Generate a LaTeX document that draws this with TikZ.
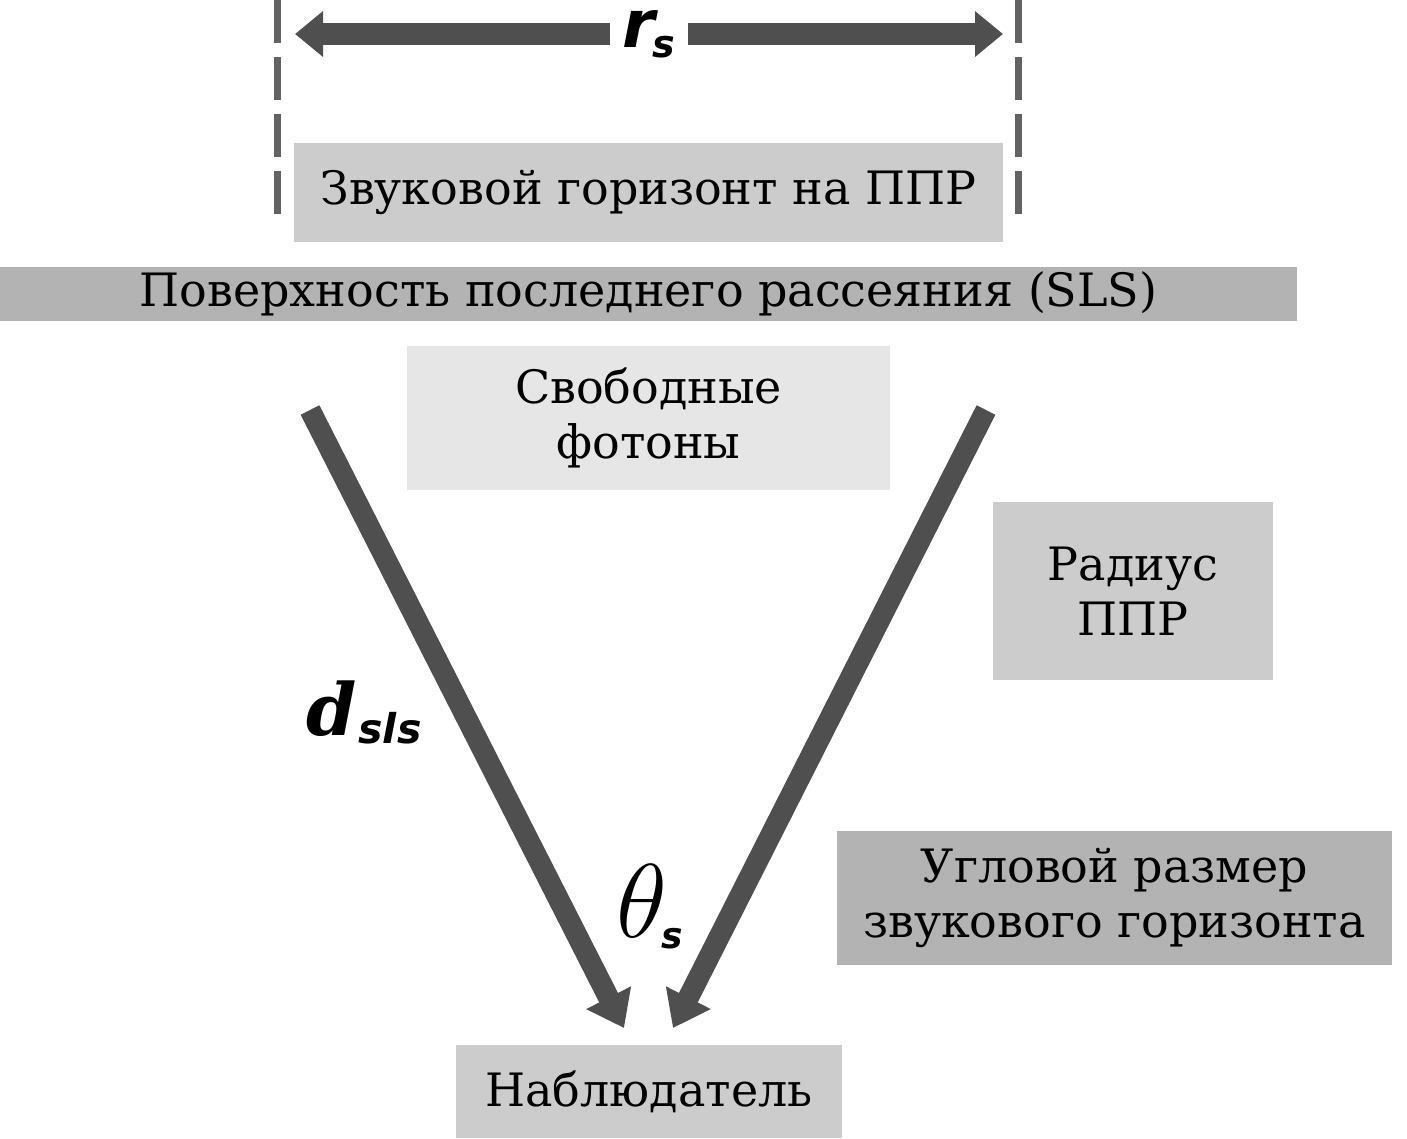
\RequirePackage{fix-cm}
\documentclass[tikz,border=0pt]{standalone}
\usepackage{fontspec}
\setmainfont{DejaVu Serif}
\newfontfamily\lsans{DejaVu Sans}
\usepackage{amsmath}
\usetikzlibrary{arrows.meta}
\definecolor{arrowgray}{HTML}{4F4F4F}
\definecolor{dashgray}{HTML}{636363}
\definecolor{boxlight}{HTML}{E6E6E6}
\definecolor{boxmid}{HTML}{CCCCCC}
\definecolor{boxdark}{HTML}{B3B3B3}
\newcommand{\symfont}{\lsans\bfseries\itshape}
\begin{document}
\begin{tikzpicture}[x=1pt,y=-1pt,
  panel/.style={fill=#1, draw=none, inner sep=0pt, align=center, font=\fontsize{46}{55}\selectfont},
  bigarrow/.style={draw=arrowgray, line width=21pt, -{Triangle[length=34pt,width=48pt]}},
  toparrow/.style={draw=arrowgray, line width=22pt, -{Triangle[length=28pt,width=44pt]}},
  dashline/.style={draw=dashgray, line width=7pt, dash pattern=on 43pt off 14pt}
]
\useasboundingbox (0,0) rectangle (1407,1138);

% dashed limits
\coordinate (DLa) at (277,0);
\coordinate (DLb) at (277,214);
\coordinate (DRa) at (1018,0);
\coordinate (DRb) at (1018,214);
\draw[dashline] (DLa) -- (DLb);
\draw[dashline] (DRa) -- (DRb);

% boxes
\node[panel=boxmid, minimum width=709pt, minimum height=99pt] (hz) at (648.5,192.5) {Звуковой горизонт на ППР};
\node[panel=boxdark, minimum width=1297pt, minimum height=54pt] (sls) at (648.5,294) {Поверхность последнего рассеяния (SLS)};
\node[panel=boxlight, minimum width=483pt, minimum height=144pt] (free) at (648.5,418) {Свободные\\фотоны};
\node[panel=boxmid, minimum width=280pt, minimum height=178pt] (rad) at (1133,591) {Радиус\\ППР};
\node[panel=boxdark, minimum width=555pt, minimum height=134pt] (ang) at (1114.5,898) {Угловой размер\\звукового горизонта};
\node[panel=boxmid, minimum width=386pt, minimum height=93pt] (obs) at (649,1091.5) {Наблюдатель};

% top r_s arrow
\node[inner sep=0pt, minimum width=78pt, minimum height=40pt] (rs) at (649,34)
  {\symfont\fontsize{66}{66}\selectfont r\kern-3pt\raisebox{-10pt}{\fontsize{38}{38}\selectfont s}};
\coordinate (TL) at (295,34);
\coordinate (TR) at (1003,34);
\draw[toparrow] (rs.west) -- (TL);
\draw[toparrow] (rs.east) -- (TR);

% diagonal arrows
\coordinate (L0) at (310,410);
\coordinate (R0) at (986,410);
\coordinate (L1) at (624,1028);
\coordinate (R1) at (673,1028);
\draw[bigarrow] (L0) -- (L1);
\draw[bigarrow] (R0) -- (R1);

% labels
\node[inner sep=0pt, anchor=base west] (dsls) at (306,735)
  {\bfseries\itshape\fontsize{72}{72}\selectfont d\kern2pt\raisebox{-8pt}{\symfont\fontsize{41}{41}\selectfont sls}};
\node[inner sep=0pt, anchor=base west] (theta) at (616,937)
  {\fontsize{105}{105}\selectfont$\theta$\kern-5pt\raisebox{-11pt}{\symfont\fontsize{36}{36}\selectfont s}};
\end{tikzpicture}
\end{document}
